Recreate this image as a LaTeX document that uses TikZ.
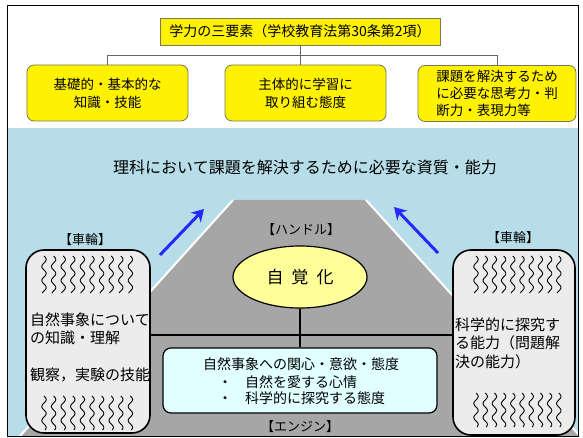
\documentclass[tikz,border=0pt]{standalone}
\usepackage{fontspec}
\setmainfont{Noto Sans CJK JP}
\usetikzlibrary{arrows.meta,shapes.geometric}

\definecolor{sky}{RGB}{183,221,232}
\definecolor{road}{RGB}{166,166,166}
\definecolor{boxedge}{RGB}{120,120,90}
\definecolor{handle}{RGB}{255,255,153}
\definecolor{engine}{RGB}{225,255,255}
\definecolor{tyre}{RGB}{236,236,236}
\definecolor{liftblue}{RGB}{40,40,250}

\tikzset{
  yellowbox/.style={draw=boxedge, fill=yellow, line width=0.8pt, inner sep=0pt},
  element/.style={yellowbox, rounded corners=7pt, minimum width=161, minimum height=56,
    font=\fontsize{13.5}{18}\selectfont, align=center},
  tree/.style={draw=gray!80!black, line width=0.8pt},
  wheel/.style={draw, line width=1.6pt, fill=tyre, rounded corners=18pt,
    minimum width=124, minimum height=183, inner sep=0pt},
  wave/.style={line width=0.9pt},
  bracket/.style={font=\fontsize{13}{15}\selectfont, inner sep=0pt},
  wheeltext/.style={font=\fontsize{15}{18.5}\selectfont, align=left, anchor=west, inner sep=0pt},
  enginetext/.style={font=\fontsize{14}{16}\selectfont, inner sep=0pt},
  lift/.style={liftblue, line width=3pt, -{Stealth[length=12pt,width=14pt]}},
}

% one wavy tread line: x, top y, length
\newcommand{\tread}[3]{\draw[wave] plot[variable=\t, domain=0:#3, samples=40, smooth]
  ({#1+2.2*sin(\t*360/14)}, {#2+\t});}

\begin{document}
\begin{tikzpicture}[x=1pt,y=-1pt]
\useasboundingbox (0,0) rectangle (583,438);
\fill[white] (0,0) rectangle (583,438);

\fill[sky] (7,128) rectangle (578,436);
\begin{scope}
\clip (7,128) rectangle (578,436);
\fill[road] (20,436) -- (233,200) -- (366,200) -- (580,436) -- cycle;
\draw[white, line width=2pt] (20,436) -- (233,200);
\draw[white, line width=2pt] (366,200) -- (580,436);
\end{scope}

\node[yellowbox, minimum width=280, minimum height=27, font=\fontsize{14}{16}\selectfont] (title) at (300,31.5) {学力の三要素（学校教育法第30条第2項）};

\node[element] (knowledge) at (107.5,93) {基礎的・基本的な\\知識・技能};
\node[element] (attitude) at (305.5,93) {主体的に学習に\\取り組む態度};
\node[element, minimum width=158, align=left, font=\fontsize{13.5}{17}\selectfont] (thinking) at (497,93.5) {課題を解決するため\\に必要な思考力・判\\断力・表現力等};

\draw[tree] (title.south) -- ++(0,10) -| (knowledge.north);
\draw[tree] (title.south) -- ++(0,10) -| (thinking.north);
\draw[tree] (title.south) -- (title.south |- attitude.north);

\node[font=\fontsize{16}{18}\selectfont] (heading) at (305,167) {理科において課題を解決するために必要な資質・能力};

\coordinate (liftLa) at (160,255);
\coordinate (liftLb) at (204,209);
\coordinate (liftRa) at (438,253);
\coordinate (liftRb) at (394,207);
\draw[lift] (liftLa) -- (liftLb);
\draw[lift] (liftRa) -- (liftRb);

\node[bracket] (handlelabel) at (301,230) {【ハンドル】};
\node[ellipse, draw, line width=1.2pt, fill=handle, minimum width=134, minimum height=62,
  font=\fontsize{17}{19}\selectfont] (aware) at (300,277) {自\hspace{8pt}覚\hspace{8pt}化};

\node[wheel] (leftwheel) at (88,341.5) {};
\node[wheel, minimum width=122, minimum height=185] (rightwheel) at (514,342.5) {};
\node[bracket] (leftlabel) at (85,240) {【車輪】};
\node[bracket] (rightlabel) at (513,238) {【車輪】};

\foreach \i in {0,...,9} {
  \tread{44+\i*9.6}{256}{37}
  \tread{44+\i*9.6}{396}{34}
  \tread{476+\i*9.2}{256}{37}
  \tread{476+\i*9.2}{393}{34}
}

\node[wheeltext] (knowtext) at (30,329) {自然事象について\\の知識・理解};
\node[wheeltext] (skilltext) at (30,375) {観察，実験の技能};
\node[wheeltext] (inquirytext) at (455,343) {科学的に探究す\\る能力（問題解\\決の能力）};

\node[draw, line width=1.2pt, fill=engine, rounded corners=8pt, minimum width=274,
  minimum height=65, inner sep=0pt] (engine) at (300,380.5) {};
\node[enginetext] (motive) at (301,364) {自然事象への関心・意欲・態度};
\node[enginetext, anchor=west] (love) at (218,382) {・\hspace{13pt}自然を愛する心情};
\node[enginetext, anchor=west] (inquiry) at (218,398) {・\hspace{13pt}科学的に探究する態度};
\node[bracket] (enginelabel) at (300,427) {【エンジン】};

\coordinate (hub) at (300,335);
\draw[line width=2.6pt] (leftwheel.east |- hub) -- (rightwheel.west |- hub);
\draw[line width=2pt] (aware.south) -- (aware.south |- engine.north);

\draw[line width=1pt] (7,6) rectangle (578,436);
\end{tikzpicture}
\end{document}
